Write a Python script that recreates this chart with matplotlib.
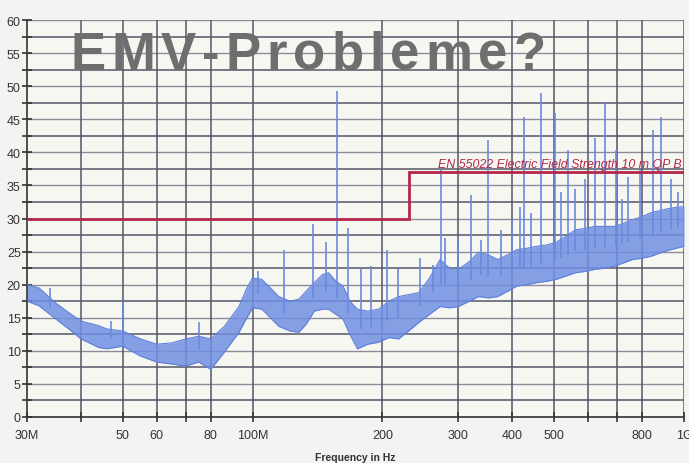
import numpy as np
import matplotlib
matplotlib.use("Agg")
import matplotlib.pyplot as plt
from matplotlib.ticker import FixedLocator, NullFormatter

# ---------------- data ----------------
freq_env = [30, 32, 35, 38, 40, 44, 46, 50, 55, 60, 65, 70, 75, 80, 86, 93, 97,
            100, 105, 110, 115, 122, 128, 133, 139, 145, 150, 156, 162, 168, 175,
            185, 196, 207, 218, 230, 243, 257, 272, 286, 300, 318, 334, 352, 370,
            390, 410, 432, 455, 480, 505, 532, 560, 590, 620, 655, 690, 725, 760,
            800, 840, 880, 920, 960, 1000]
level_low = [17.5, 16.8, 14.8, 13.0, 11.8, 10.5, 10.3, 10.7, 9.2, 8.3, 8.0, 7.7, 8.3,
             7.2, 9.8, 12.8, 15.0, 16.5, 16.3, 15.0, 13.7, 13.0, 12.8, 14.0, 16.0,
             16.3, 16.3, 15.5, 14.8, 12.5, 10.3, 11.0, 11.3, 12.0, 11.8, 13.0, 14.3,
             15.5, 16.7, 16.5, 16.7, 17.5, 18.2, 18.0, 18.2, 19.0, 19.8, 20.0, 20.3,
             20.5, 20.8, 21.3, 21.8, 22.0, 22.3, 22.5, 22.8, 23.3, 23.8, 24.0, 24.3,
             24.8, 25.2, 25.5, 25.8]
level_high = [20.0, 19.5, 17.2, 15.5, 14.5, 13.8, 13.3, 13.0, 11.8, 11.0, 11.2, 11.8,
              12.2, 11.8, 13.7, 16.7, 19.5, 21.0, 20.8, 19.5, 18.2, 17.5, 17.8, 19.0,
              20.3, 21.5, 21.8, 20.5, 19.8, 17.5, 16.3, 16.0, 16.3, 17.5, 18.2, 18.5,
              18.8, 21.0, 23.8, 22.5, 22.3, 23.5, 24.9, 24.5, 23.8, 24.5, 25.3, 25.5,
              25.8, 26.0, 26.4, 27.3, 28.3, 28.5, 28.8, 28.8, 28.8, 29.3, 29.8, 30.3,
              30.9, 31.2, 31.5, 31.7, 31.8]

spike_freq = [34, 47, 50, 75, 103, 118, 138, 148, 157, 166, 178, 188, 205, 217, 245,
              262, 274, 280, 300, 321, 339, 351, 377, 400, 417, 426, 443, 467, 503,
              520, 539, 559, 589, 622, 656, 694, 720, 740, 792, 846, 883, 935, 970]
spike_peak = [19.5, 14.5, 17.5, 14.3, 22.0, 25.3, 29.1, 26.5, 49.2, 28.5, 22.3, 22.8,
              25.3, 22.3, 24.1, 23.0, 37.5, 27.0, 27.0, 33.6, 26.8, 41.9, 28.3, 30.0,
              31.8, 45.4, 30.9, 49.0, 46.0, 34.0, 40.4, 34.4, 35.9, 42.2, 47.6, 40.4,
              33.0, 36.3, 37.4, 43.4, 45.4, 35.9, 34.0]

limit_freq = [30, 230, 230, 1000]
limit_level = [30, 30, 37, 37]
limit_label = "EN 55022 Electric Field Strength 10 m QP B"

xgrid = [30, 40, 50, 60, 70, 80, 100, 200, 300, 400, 500, 600, 700, 800, 1000]
xlabel_pos = [30, 50, 60, 80, 100, 200, 300, 400, 500, 800, 1000]
xlabel_txt = ["30M", "50", "60", "80", "100M", "200", "300", "400", "500", "800", "1G"]
ytick_major = list(range(0, 61, 5))
ytick_minor = [v + 2.5 for v in range(0, 60, 5)]
title_text = "EMV-Probleme?"
xlabel_text = "Frequency in Hz"

# ---------------- figure ----------------
plt.rcParams['font.family'] = ['Liberation Sans', 'DejaVu Sans']
fig = plt.figure(figsize=(6.89, 4.64), dpi=100, facecolor='#f3f3f1')
ax = fig.add_axes([27 / 689, 46 / 464, (684 - 27) / 689, (443 - 46) / 464])
ax.set_facecolor('#f7f7f2')
ax.set_xscale('log')
ax.set_xlim(30, 1000)
ax.set_ylim(0, 60)

grid_dark = '#565668'
grid_light = '#8c8c98'
for v in ytick_major[1:]:
    ax.axhline(v, color=grid_light, lw=1.0, zorder=1)
for v in ytick_minor:
    ax.axhline(v, color=grid_dark, lw=1.1, zorder=1)
for v in xgrid[1:]:
    ax.axvline(v, color=grid_dark, lw=1.1, zorder=1)

blue = '#7090e2'
f = np.array(freq_env, float)
lo = np.array(level_low)
hi = np.array(level_high)
ax.fill_between(f, lo, hi, color=blue, alpha=0.85, lw=0, zorder=2)
ax.plot(f, lo, color='#5f80dc', lw=0.8, zorder=3)
ax.plot(f, hi, color='#5f80dc', lw=0.8, zorder=3)
base = np.interp(np.log(spike_freq), np.log(f), (lo + hi) / 2)
ax.vlines(spike_freq, base, spike_peak, color='#6a8ae0', lw=1.2, zorder=3)

ax.plot(limit_freq, limit_level, color='#b3284a', lw=2.0, zorder=4,
        solid_joinstyle='miter')
ax.text(985, 37.4, limit_label, color='#b3284a', fontsize=8.9, style='italic',
        ha='right', va='bottom', zorder=5)

# axes / ticks
for s in ['top', 'right']:
    ax.spines[s].set_visible(False)
ax.spines['left'].set_color('#333333')
ax.spines['bottom'].set_color('#333333')
ax.spines['left'].set_linewidth(1.2)
ax.spines['bottom'].set_linewidth(1.2)
ax.xaxis.set_major_locator(FixedLocator(xlabel_pos))
ax.xaxis.set_major_formatter(matplotlib.ticker.FixedFormatter(xlabel_txt))
ax.xaxis.set_minor_locator(FixedLocator([v for v in xgrid if v not in xlabel_pos]))
ax.xaxis.set_minor_formatter(NullFormatter())
ax.yaxis.set_major_locator(FixedLocator(ytick_major))
ax.yaxis.set_minor_locator(FixedLocator(ytick_minor))
ax.tick_params(axis='both', which='both', direction='inout', length=7, width=1.2,
               color='#333333', labelsize=9, labelcolor='#333333')
ax.tick_params(axis='y', pad=1)
ax.tick_params(axis='x', pad=5)
ax.set_xlabel(xlabel_text, fontsize=7.5, fontweight='bold', color='#333333', labelpad=8)

# title with letter spacing
fig.canvas.draw()
r = fig.canvas.get_renderer()
x0 = 70
y0 = 464 - 70
spacing = 6.0
for ch in title_text:
    t = fig.text(x0 / 689, y0 / 464, ch, fontsize=38, fontweight='bold',
                 color='#6e6e6e', ha='left', va='baseline', zorder=10)
    w = t.get_window_extent(r).width
    x0 += w + spacing

fig.savefig('out.png', dpi=100, facecolor=fig.get_facecolor())
